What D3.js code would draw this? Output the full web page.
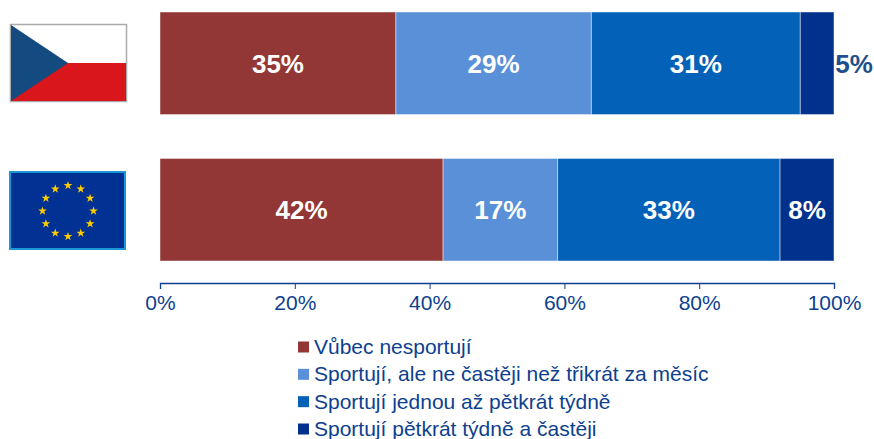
<!DOCTYPE html>
<html><head><meta charset="utf-8">
<script src="https://cdn.jsdelivr.net/npm/d3@7/dist/d3.min.js"></script>
<style>html,body{margin:0;padding:0;background:#fff}svg{display:block}text{font-family:"Liberation Sans",Arial,sans-serif}</style>
</head><body><svg id="c" width="874" height="439"></svg>
<script>
const regions = ["CZ","EU"];
const seriesNames = ["Vůbec nesportují","Sportují, ale ne častěji než třikrát za měsíc","Sportují jednou až pětkrát týdně","Sportují pětkrát týdně a častěji"];
const seriesColors = ["#923735","#5a90d8","#0461b8","#00318c"];
const czValues = [35,29,31,5];
const euValues = [42,17,33,8];
const tickValues = [0,20,40,60,80,100];
const valuesByRegion = {CZ:czValues,EU:euValues};

const svg = d3.select("#c");
const x = d3.scaleLinear().domain([0,100]).range([160,834]);
const y = d3.scaleBand().domain(regions).range([12,261]).paddingInner(0.3).paddingOuter(0);
const axisColor="#0d3f8f", textColor="#0d3f8f", outLabel="#1f4f8c";

regions.forEach(r=>{
  let cum=0;
  const rows=valuesByRegion[r].map((v,i)=>{const d={v,i,s:cum,e:cum+v};cum+=v;return d;});
  const g=svg.append("g");
  g.selectAll("rect").data(rows).join("rect")
    .attr("x",d=>x(d.s)).attr("width",d=>x(d.e)-x(d.s))
    .attr("y",y(r)).attr("height",y.bandwidth())
    .attr("fill",d=>seriesColors[d.i])
    .attr("stroke","#fff").attr("stroke-opacity",0.45).attr("stroke-width",1);
  g.selectAll("text").data(rows).join("text")
    .attr("x",d=>d.v<=5? x(d.e)+20 : x((d.s+d.e)/2))
    .attr("y",y(r)+y.bandwidth()/2+9.5)
    .attr("text-anchor","middle")
    .attr("font-size",26).attr("font-weight","bold")
    .attr("fill",d=>d.v<=5?outLabel:"#fff")
    .text(d=>d.v+"%");
});

// axis
const axis=d3.axisBottom(x).tickValues(tickValues).tickFormat(d=>d+"%").tickSize(6).tickPadding(6);
const ax=svg.append("g").attr("transform","translate(0,283)").call(axis);
ax.select(".domain").attr("stroke",axisColor).attr("stroke-width",1.3);
ax.selectAll(".tick line").attr("stroke",axisColor).attr("stroke-width",1);
ax.selectAll(".tick text").attr("fill",textColor).attr("font-size",21).attr("font-family",'"Liberation Sans",Arial,sans-serif');

// legend
const ly=d3.scalePoint().domain(seriesNames).range([347,429]);
const lg=svg.append("g");
lg.selectAll("rect").data(seriesNames).join("rect")
  .attr("x",298).attr("width",11).attr("height",11)
  .attr("y",d=>ly(d)-5.5).attr("fill",(d,i)=>seriesColors[i]);
lg.selectAll("text").data(seriesNames).join("text")
  .attr("x",314).attr("y",d=>ly(d)+7).attr("font-size",21).attr("fill",textColor).text(d=>d);

// flags
const cz=svg.append("g");
cz.append("rect").attr("x",10.5).attr("y",24.5).attr("width",116).attr("height",77).attr("fill","#fff").attr("stroke","#aaa").attr("stroke-width",1.5);
cz.append("rect").attr("x",11).attr("y",63).attr("width",115).attr("height",38).attr("fill","#d9161c");
cz.append("path").attr("d","M11,25L68,63L11,101Z").attr("fill","#134a80");
const eu=svg.append("g");
eu.append("rect").attr("x",10).attr("y",172).attr("width",115).attr("height",77).attr("fill","#003193").attr("stroke","#1b97d8").attr("stroke-width",2);
const star=d3.symbol().type(d3.symbolStar).size(24);
const starAngles=d3.range(12);
eu.selectAll("path").data(starAngles).join("path")
  .attr("d",star)
  .attr("transform",a=>`translate(${68+25.5*Math.sin(a*Math.PI/6)},${211-25.5*Math.cos(a*Math.PI/6)})`)
  .attr("fill","#fc0");
</script></body></html>
